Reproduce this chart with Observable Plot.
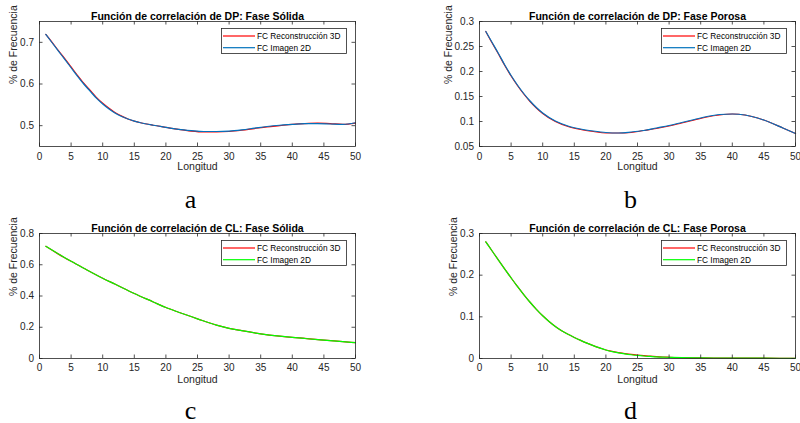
<!DOCTYPE html>
<html><head><meta charset="utf-8">
<script src="https://cdn.jsdelivr.net/npm/d3@7"></script>
<script src="https://cdn.jsdelivr.net/npm/@observablehq/plot@0.6"></script>
<style>
body{margin:0;background:#fff;}
#root{position:relative;width:800px;height:423px;overflow:hidden;background:#fff;font-family:"Liberation Sans",Arial,sans-serif;}
.panel{position:absolute;}
.legend{position:absolute;}
</style></head><body><div id="root"></div>
<script>
// ---- data ----
const xTicks = [0,5,10,15,20,25,30,35,40,45,50];
const seriesNames = ["FC Reconstrucción 3D", "FC Imagen 2D"];
const titles = ["Función de correlación de DP: Fase Sólida","Función de correlación de DP: Fase Porosa","Función de correlación de CL: Fase Sólida","Función de correlación de CL: Fase Porosa"];
const letters = ["a","b","c","d"];

// Panel a : DP, fase sólida
const lonA = [1,2,3,4,5,6,7,8,9,10,11,12,13,14,15,16,18,20,22,24,26,28,30,32,34,36,38,40,42,44,46,48,50];
const dpSolid3D = [0.719,0.700,0.680,0.661,0.641,0.621,0.602,0.585,0.568,0.554,0.542,0.531,0.523,0.516,0.511,0.507,0.501,0.496,0.491,0.487,0.485,0.485,0.486,0.489,0.493,0.497,0.500,0.503,0.505,0.506,0.505,0.503,0.506];
const dpSolid2D = [0.719,0.699,0.679,0.659,0.639,0.619,0.600,0.583,0.566,0.552,0.540,0.530,0.522,0.516,0.511,0.507,0.501,0.496,0.491,0.488,0.486,0.486,0.487,0.490,0.494,0.498,0.501,0.503,0.505,0.505,0.504,0.503,0.507];
const yTicksA = [0.5,0.6,0.7];

// Panel b : DP, fase porosa
const lonB = [1,2,3,4,5,6,7,8,9,10,12,14,16,18,20,22,24,26,28,30,32,34,36,38,40,42,44,46,48,50];
const dpPor3D = [0.280,0.257,0.235,0.212,0.191,0.172,0.155,0.140,0.127,0.116,0.100,0.090,0.084,0.080,0.077,0.077,0.078,0.082,0.086,0.091,0.097,0.103,0.109,0.113,0.115,0.113,0.107,0.098,0.087,0.076];
const dpPor2D = [0.280,0.258,0.236,0.213,0.192,0.173,0.156,0.141,0.128,0.117,0.101,0.091,0.085,0.081,0.078,0.077,0.079,0.082,0.087,0.092,0.098,0.104,0.110,0.114,0.115,0.113,0.107,0.098,0.087,0.076];
const yTicksB = [0.05,0.1,0.15,0.2,0.25,0.3];

// Panel c : CL, fase sólida
const lonC = [1,3,5,7,10,12,15,18,20,22,25,28,30,32,35,38,40,42,45,48,50];
const clSolid3D = [0.718,0.668,0.622,0.578,0.514,0.475,0.416,0.362,0.326,0.296,0.254,0.214,0.193,0.178,0.158,0.143,0.135,0.129,0.118,0.108,0.101];
const clSolid2D = [0.718,0.669,0.622,0.578,0.514,0.475,0.416,0.362,0.326,0.296,0.254,0.214,0.193,0.178,0.158,0.143,0.135,0.128,0.118,0.108,0.101];
const yTicksC = [0,0.2,0.4,0.6,0.8];

// Panel d : CL, fase porosa
const lonD = [1,2,3,4,5,6,7,8,9,10,11,12,13,14,15,16,17,18,19,20,21,22,23,24,25,26,27,28,29,30,32,35,40,45,50];
const clPor3D = [0.280,0.258,0.236,0.2145,0.1935,0.173,0.1535,0.135,0.118,0.1025,0.089,0.077,0.0665,0.058,0.0505,0.0435,0.037,0.031,0.0255,0.0205,0.017,0.014,0.0118,0.0098,0.0082,0.0068,0.0056,0.0045,0.0036,0.003,0.002,0.0015,0.001,0.0007,0.0005];
const clPor2D = [0.280,0.258,0.236,0.2145,0.1935,0.173,0.1535,0.135,0.118,0.1025,0.089,0.077,0.0665,0.058,0.0505,0.0435,0.037,0.031,0.0255,0.0205,0.0165,0.0135,0.011,0.009,0.0073,0.006,0.005,0.004,0.0033,0.0028,0.002,0.0015,0.001,0.0007,0.0005];
const yTicksD = [0,0.1,0.2,0.3];

const red = "#ff0000", blue = "#0072bd", green = "#00ff00";
const axisColor = "#262626";
const tickLen = 3.5;

function panel(o){
  const innerH = o.height - o.mt - o.mb;
  const innerW = o.width - o.ml - o.mr;
  const r3 = o.xs.map((x,i)=>({x, y:o.s3[i]}));
  const r2 = o.xs.map((x,i)=>({x, y:o.s2[i]}));
  const svg = Plot.plot({
    width:o.width, height:o.height,
    marginTop:o.mt, marginBottom:o.mb, marginLeft:o.ml, marginRight:o.mr,
    style:{fontFamily:"'Liberation Sans', Arial, sans-serif", fontSize:"10px", color:axisColor, background:"transparent", overflow:"visible"},
    x:{domain:[0,50], ticks:xTicks, tickSize:0, tickPadding:o.xPad, tickFormat:d=>String(d), label:null},
    y:{domain:o.yDomain, ticks:o.yTicks, tickSize:0, tickPadding:5.5, tickFormat:d=>String(d), label:null},
    marks:[
      Plot.line(r3,{x:"x",y:"y",stroke:red,strokeWidth:1.2,curve:"monotone-x"}),
      Plot.line(r2,{x:"x",y:"y",stroke:o.c2,strokeWidth:1.2,curve:"monotone-x"}),
      Plot.frame({stroke:axisColor, strokeWidth:0.8}),
      Plot.ruleX(xTicks,{x:d=>d, stroke:axisColor, strokeWidth:0.8, insetTop:innerH-tickLen}),
      Plot.ruleX(xTicks,{x:d=>d, stroke:axisColor, strokeWidth:0.8, insetBottom:innerH-tickLen}),
      Plot.ruleY(o.yTicks,{y:d=>d, stroke:axisColor, strokeWidth:0.8, insetRight:innerW-tickLen}),
      Plot.ruleY(o.yTicks,{y:d=>d, stroke:axisColor, strokeWidth:0.8, insetLeft:innerW-tickLen}),
      Plot.text([o.title],{text:d=>d, frameAnchor:"top", dy:-8.5, fontWeight:"bold", fontSize:10.5, fill:"#000"}),
      Plot.text(["Longitud"],{text:d=>d, frameAnchor:"bottom", dy:o.lonDy, fontSize:10.5, fill:axisColor}),
      Plot.text(["% de Frecuencia"],{text:d=>d, frameAnchor:"left", dx:o.ylDx, rotate:-90, fontSize:10.5, fill:axisColor}),
      Plot.text([o.letter],{text:d=>d, frameAnchor:"bottom", dy:o.letDy, dx:-7, lineAnchor:"bottom", fontFamily:"'Liberation Serif', 'DejaVu Serif', serif", fontSize:26, fill:"#000"})
    ]
  });
  const wrap = document.createElement("div");
  wrap.className = "panel";
  wrap.style.left = o.left+"px"; wrap.style.top = o.top+"px";
  wrap.appendChild(svg);
  document.getElementById("root").appendChild(wrap);

  // legend (inside axes, upper right)
  const lw = 126, lh = 26;
  const lg = document.createElement("div");
  lg.className = "legend";
  lg.style.left = (o.left + o.width - o.mr - 8 - lw) + "px";
  lg.style.top = (o.top + o.mt + 6.5) + "px";
  const s = d3.create("svg").attr("width", lw).attr("height", lh)
    .style("font-family","'Liberation Sans', Arial, sans-serif").style("display","block");
  s.append("rect").attr("x",0.5).attr("y",0.5).attr("width",lw-1).attr("height",lh-1)
    .attr("fill","#fff").attr("stroke",axisColor).attr("stroke-width",0.8);
  [[seriesNames[0], red, 8],[seriesNames[1], o.c2, 19.7]].forEach(([t,c,yy])=>{
    s.append("line").attr("x1",2).attr("x2",34).attr("y1",yy).attr("y2",yy).attr("stroke",c).attr("stroke-width",1.2);
    s.append("text").attr("x",36).attr("y",yy).attr("dy","0.35em").attr("font-size",8.3).attr("fill","#000").text(t);
  });
  lg.appendChild(s.node());
  document.getElementById("root").appendChild(lg);
}

panel({left:0, top:0, width:400, height:211, mt:21, mb:65, ml:39, mr:45, yDomain:[0.45,0.75], yTicks:yTicksA,
  title:titles[0], letter:letters[0], ylDx:-26, letDy:61, xPad:6, lonDy:23.5, xs:lonA, s3:dpSolid3D, s2:dpSolid2D, c2:blue});
panel({left:400, top:0, width:400, height:211, mt:21, mb:65, ml:79, mr:5, yDomain:[0.05,0.3], yTicks:yTicksB,
  title:titles[1], letter:letters[1], ylDx:-31, letDy:61, xPad:6, lonDy:23.5, xs:lonB, s3:dpPor3D, s2:dpPor2D, c2:blue});
panel({left:0, top:211, width:400, height:212, mt:22, mb:65, ml:39, mr:45, yDomain:[0,0.8], yTicks:yTicksC,
  title:titles[2], letter:letters[2], ylDx:-26, letDy:60, xPad:5, lonDy:24.5, xs:lonC, s3:clSolid3D, s2:clSolid2D, c2:green});
panel({left:400, top:211, width:400, height:212, mt:22, mb:65, ml:79, mr:5, yDomain:[0,0.3], yTicks:yTicksD,
  title:titles[3], letter:letters[3], ylDx:-26, letDy:60, xPad:5, lonDy:24.5, xs:lonD, s3:clPor3D, s2:clPor2D, c2:green});
</script>
</body></html>
